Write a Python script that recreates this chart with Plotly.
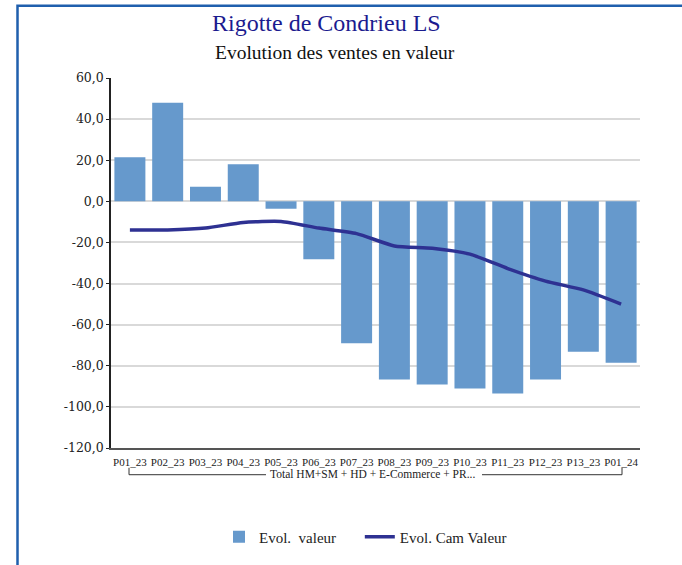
import plotly.graph_objects as go

periods = ["P01_23", "P02_23", "P03_23", "P04_23", "P05_23", "P06_23", "P07_23",
           "P08_23", "P09_23", "P10_23", "P11_23", "P12_23", "P13_23", "P01_24"]
evol_valeur = [21.5, 48.0, 7.1, 18.1, -3.6, -28.2, -69.0,
               -86.7, -89.1, -91.0, -93.5, -86.7, -73.2, -78.5]
evol_cam_valeur = [-14.0, -13.9, -13.0, -10.3, -9.8, -13.0, -15.7,
                   -21.7, -22.8, -25.7, -32.7, -38.8, -43.1, -50.0]
group_label = "Total HM+SM + HD + E-Commerce + PR..."
y_ticks = [60, 40, 20, 0, -20, -40, -60, -80, -100, -120]

SERIF = "DejaVu Serif"
NB = "\u00a0"

fig = go.Figure()
fig.add_trace(go.Bar(
    x=periods, y=evol_valeur, name="Evol." + NB * 2 + "valeur" + NB * 5,
    marker=dict(color="#6699CC", line=dict(width=0)),
))
fig.add_trace(go.Scatter(
    x=periods, y=evol_cam_valeur, name="Evol. Cam Valeur", mode="lines",
    line=dict(color="#2E3192", width=3.5, shape="spline", smoothing=0.6),
))

# pixel helpers for the chart frame (plot area 111..640 x 78..452)
L, R, T, B = 111, 640, 78, 452
W, H = R - L, B - T
px = lambda x: (x - L) / W
py = lambda y: (B - y) / H

shapes = [
    # blue outer frame
    dict(type="rect", xref="paper", yref="paper", x0=px(17.5), x1=px(800),
         y0=py(800), y1=py(5), line=dict(color="#1F5FAD", width=2.5)),
    # group bracket
    dict(type="path", xref="paper", yref="paper",
         path=f"M {px(129)},{py(472)} L {px(129)},{py(479)} L {px(266)},{py(479)}",
         line=dict(color="#333333", width=1)),
    dict(type="path", xref="paper", yref="paper",
         path=f"M {px(482)},{py(479)} L {px(622)},{py(479)} L {px(622)},{py(472)}",
         line=dict(color="#333333", width=1)),
]

annotations = [
    dict(text="Rigotte de Condrieu LS", xref="paper", yref="paper", x=px(326), y=py(22),
         xanchor="center", yanchor="middle",
         showarrow=False, font=dict(family="Liberation Serif", size=24, color="#1B1B8F")),
    dict(text="Evolution des ventes en valeur", xref="paper", yref="paper", x=px(335), y=py(52),
         xanchor="center", yanchor="middle",
         showarrow=False, font=dict(family="Liberation Serif", size=19.5, color="#111111")),
    dict(text=group_label, xref="paper", yref="paper", x=px(372), y=py(478),
         xanchor="center", yanchor="middle",
         showarrow=False, font=dict(family="Liberation Serif", size=11.5, color="#222222")),
]

fig.update_layout(
    width=682, height=565,
    margin=dict(l=L, r=682 - R, t=T, b=565 - B),
    paper_bgcolor="white", plot_bgcolor="white",
    bargap=0.18,
    showlegend=True,
    legend=dict(orientation="h", x=px(219), xanchor="left", y=py(542), yanchor="middle",
                font=dict(family="Liberation Serif", size=15, color="#222222"),
                itemwidth=30, tracegroupgap=0),
    shapes=shapes,
    annotations=annotations,
    font=dict(family=SERIF, color="#222222"),
)
fig.update_yaxes(
    range=[-120, 60], tickmode="array", tickvals=y_ticks,
    ticktext=[f"{v:.1f}".replace(".", ",") for v in y_ticks],
    showgrid=True, gridcolor="#D9D9D9", gridwidth=1.5,
    zeroline=False, showline=True, linecolor="#222222", linewidth=1.5,
    ticks="outside", ticklen=3, tickcolor="#222222",
    tickfont=dict(family=SERIF, size=12.5, color="#222222"),
)
fig.update_xaxes(
    showline=True, linecolor="#555555", linewidth=1.5, ticks="",
    ticklabelstandoff=3,
    tickfont=dict(family="Liberation Serif", size=11, color="#222222"),
    tickangle=0,
)

fig.write_html("out.html", config={"displayModeBar": False},
               post_script="document.body.style.margin='0';")
